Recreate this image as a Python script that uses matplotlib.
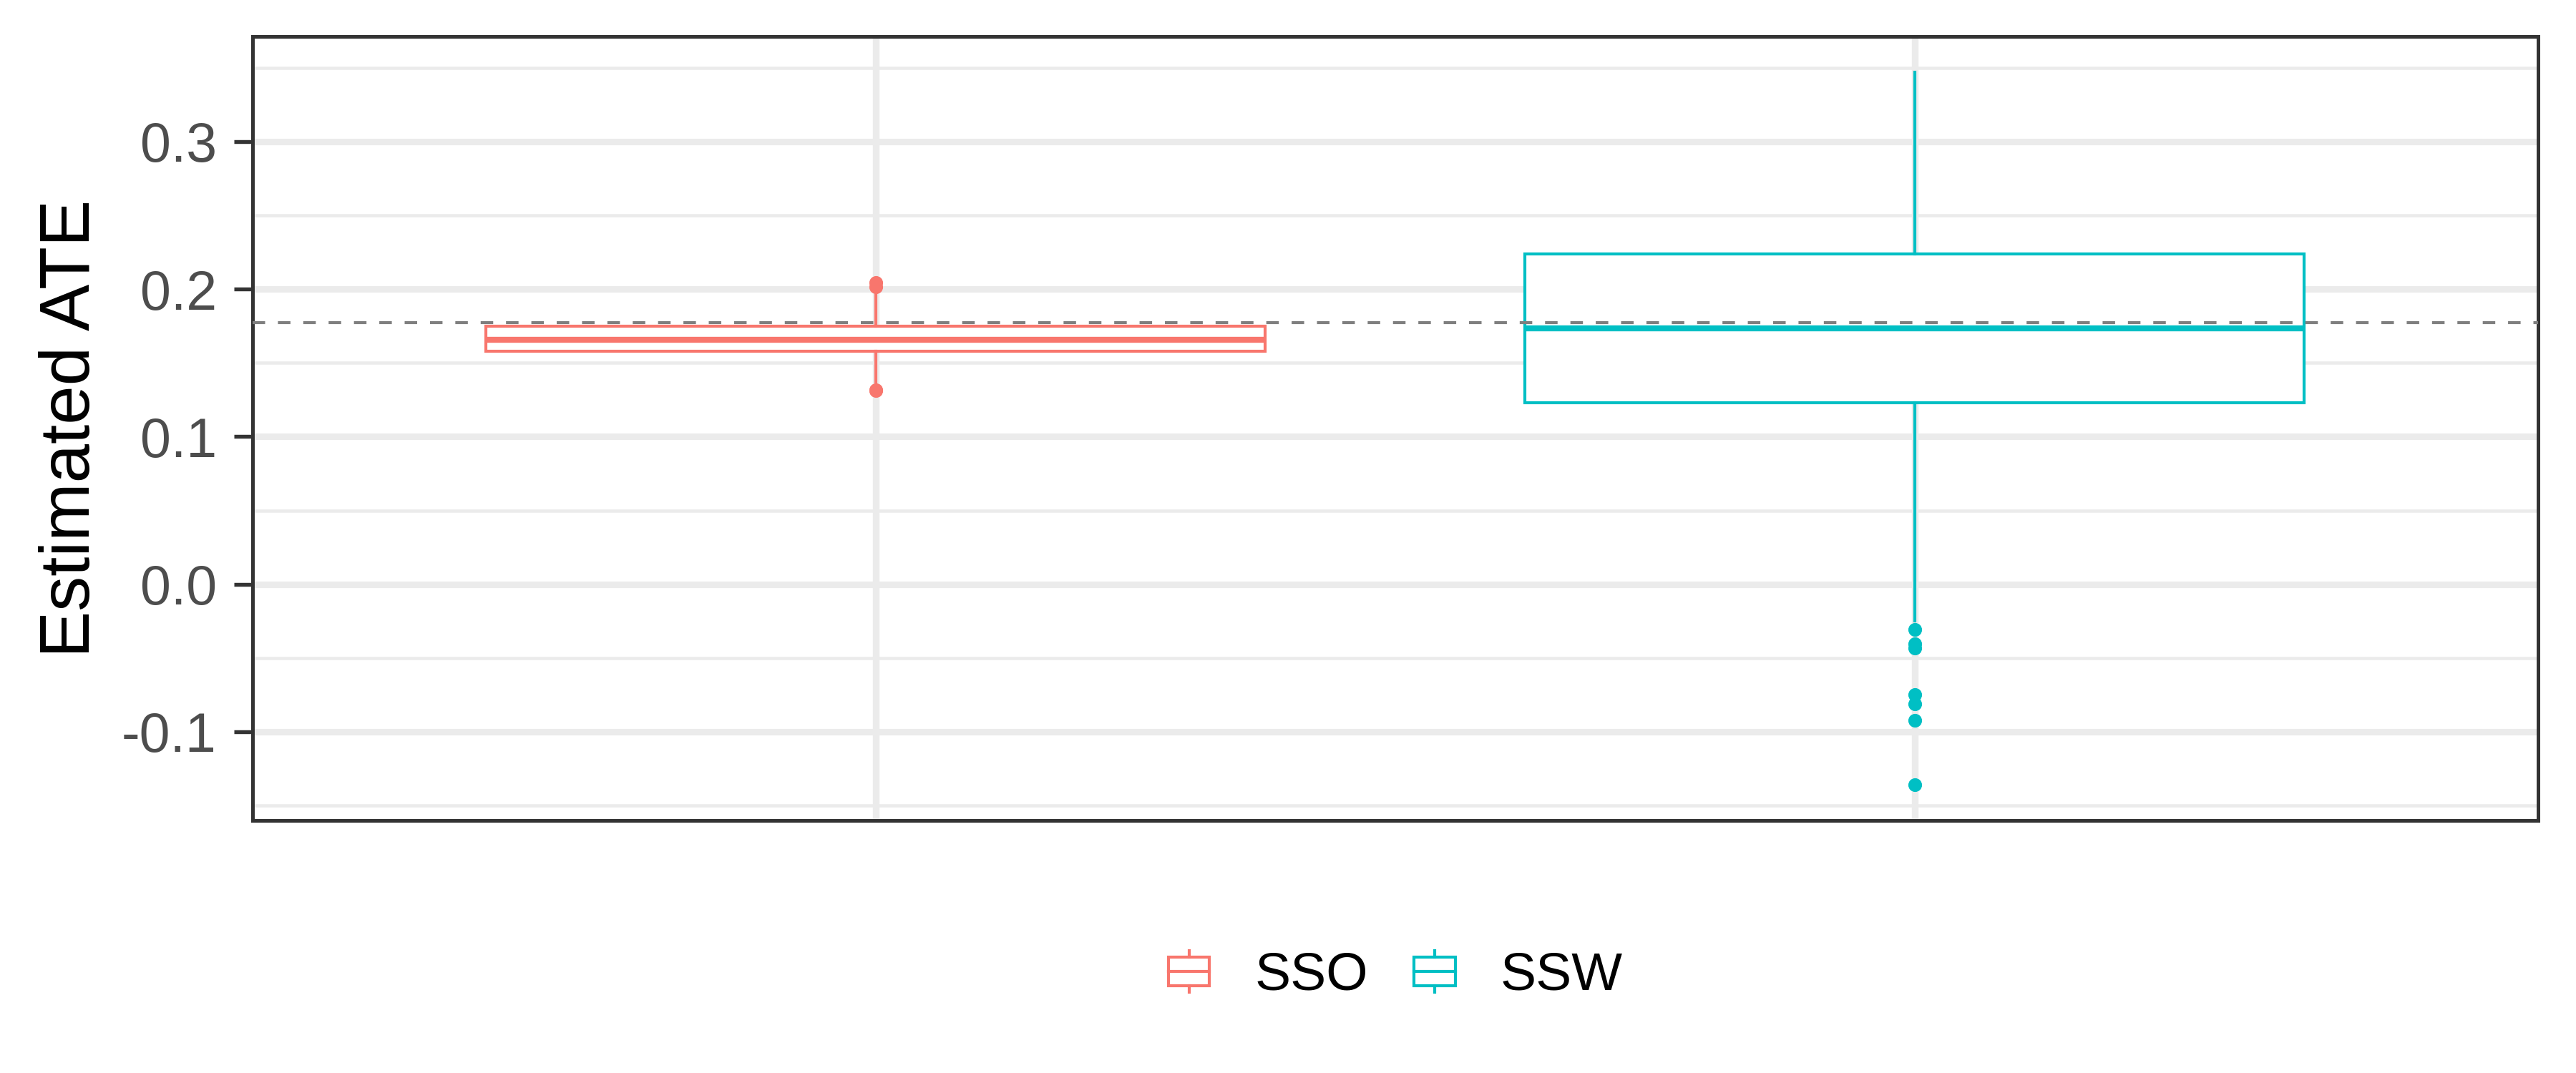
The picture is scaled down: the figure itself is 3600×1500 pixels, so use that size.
import matplotlib
matplotlib.use("Agg")
import matplotlib.pyplot as plt
from matplotlib.patches import Rectangle, Patch
from matplotlib.lines import Line2D
from matplotlib.legend_handler import HandlerBase

plt.rcParams['font.family'] = ['Liberation Sans', 'DejaVu Sans']

# 数据
groups = ["SSO", "SSW"]
colors = ["#F8766D", "#00BFC4"]
q1 = [0.1578, 0.1228]
med = [0.1657, 0.1732]
q3 = [0.1746, 0.2237]
whislo = [0.1355, -0.0247]
whishi = [0.1985, 0.3470]
sso_outliers = [0.2045, 0.2015, 0.1318, 0.1313]
ssw_outliers = [-0.0306, -0.0405, -0.0435, -0.0748, -0.0813, -0.0924, -0.1360]
true_ate = 0.1773

ytick_values = [-0.1, 0.0, 0.1, 0.2, 0.3]
ytick_labels = ["-0.1", "0.0", "0.1", "0.2", "0.3"]
yminor_values = [-0.15, -0.05, 0.05, 0.15, 0.25, 0.35]

outliers = [sso_outliers, ssw_outliers]


# legend key drawn like ggplot's boxplot key
class BoxKey(HandlerBase):
    def create_artists(self, legend, orig_handle, xdescent, ydescent,
                       width, height, fontsize, trans):
        c = orig_handle.get_edgecolor()
        box_h = height * 0.69
        y0 = -ydescent + (height - box_h) / 2
        x0 = -xdescent
        xm = x0 + width / 2
        rect = Rectangle((x0, y0), width, box_h, facecolor="white",
                         edgecolor=c, lw=1.0, transform=trans)
        mid = Line2D([x0, x0 + width], [y0 + box_h / 2] * 2, color=c, lw=1.0, transform=trans)
        up = Line2D([xm, xm], [y0 + box_h, -ydescent + height], color=c, lw=1.0, transform=trans)
        lo = Line2D([xm, xm], [-ydescent, y0], color=c, lw=1.0, transform=trans)
        return [rect, mid, up, lo]


fig = plt.figure(figsize=(12, 5), dpi=300)
ax = fig.add_axes([0.098, 0.2353, 0.8873, 0.7307])

# grid first
ax.set_axisbelow(True)
ax.set_xticks([1, 2])
ax.set_yticks(ytick_values)
ax.set_yticklabels(ytick_labels)
ax.set_yticks(yminor_values, minor=True)
ax.grid(which="major", color="#EBEBEB", lw=2.2)
ax.grid(which="minor", axis="y", color="#EBEBEB", lw=1.1)

# boxes
for i in range(2):
    stats = [{
        "med": med[i], "q1": q1[i], "q3": q3[i],
        "whislo": whislo[i], "whishi": whishi[i],
        "fliers": outliers[i],
    }]
    ax.bxp(stats, positions=[i + 1], widths=0.75, showcaps=False, patch_artist=True,
           boxprops=dict(facecolor="white", edgecolor=colors[i], lw=1.0),
           medianprops=dict(color=colors[i], lw=2.0, solid_capstyle="butt"),
           whiskerprops=dict(color=colors[i], lw=1.0),
           flierprops=dict(marker="o", markerfacecolor=colors[i], markeredgewidth=0,
                           markersize=4.6, linestyle="none"),
           zorder=3)

ax.axhline(true_ate, color="#7F7F7F", lw=1.0, dashes=(4.2, 4.3), zorder=4)

# limits like ggplot expansion
allv = whislo + whishi + sso_outliers + ssw_outliers
lo, hi = min(allv), max(allv)
pad = (hi - lo) * 0.05
ax.set_ylim(lo - pad, hi + pad)
ax.set_xlim(0.4, 2.6)

ax.tick_params(axis="x", length=0, labelbottom=False)
ax.tick_params(axis="y", which="major", length=6.2, width=1.3, color="#333333",
               pad=5.8, labelsize=18.5, labelcolor="#4D4D4D")
ax.tick_params(axis="y", which="minor", length=0)
for s in ax.spines.values():
    s.set_color("#333333")
    s.set_linewidth(1.2)

ax.set_ylabel("Estimated ATE", fontsize=23.5, color="black")
ax.yaxis.set_label_coords(-0.065, 0.5)

handles = [Patch(edgecolor=colors[0], facecolor="white"), Patch(edgecolor=colors[1], facecolor="white")]
fig.legend(handles, groups, handler_map={Patch: BoxKey()}, loc="center",
           bbox_to_anchor=(0.5417, 0.0907), ncol=2, frameon=False, fontsize=18,
           handlelength=0.77, handleheight=0.81, handletextpad=0.84, columnspacing=0.85)

plt.savefig("out.png", dpi=300)
